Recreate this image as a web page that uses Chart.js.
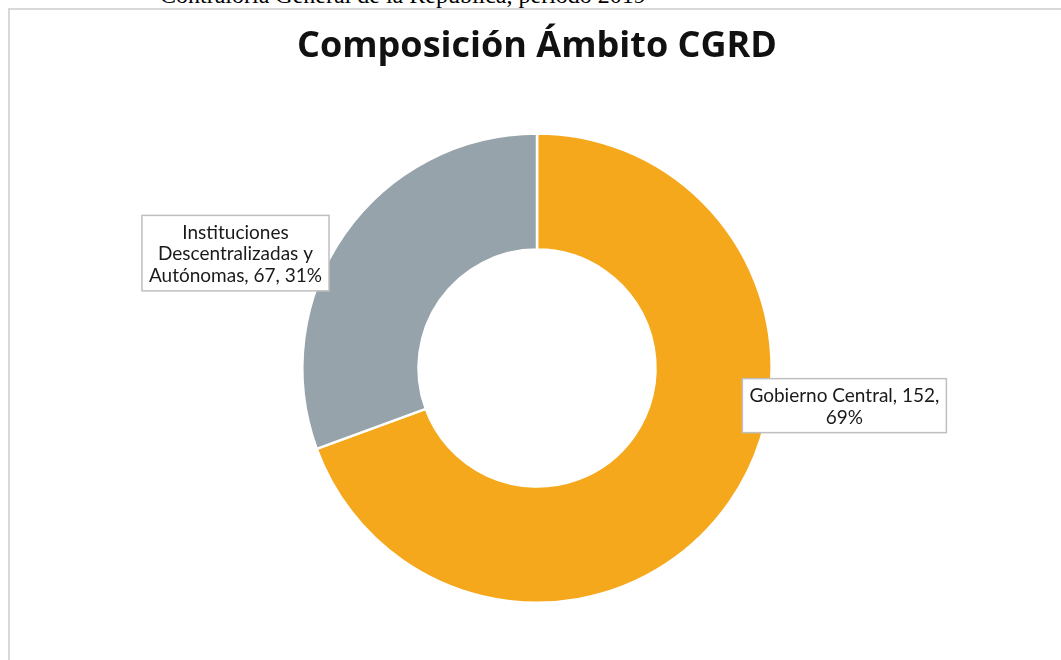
<!DOCTYPE html>
<html lang="es">
<head>
    <meta charset="UTF-8">
    <title>Composición Ámbito CGRD</title>
    <script src="https://cdn.jsdelivr.net/npm/chart.js"></script>
    <style>
        html, body {
            margin: 0;
            padding: 0;
            width: 1061px;
            height: 660px;
            overflow: hidden;
            background: #ffffff;
        }
        .caption {
            position: absolute;
            left: 160px;
            top: -17px;
            font-family: "Liberation Serif", "DejaVu Serif", serif;
            font-size: 24px;
            line-height: 24px;
            color: #000;
            white-space: nowrap;
        }
        .frame {
            position: absolute;
            left: 8px;
            top: 8px;
            width: 1058px;
            height: 660px;
            border: 2px solid #d9d9d9;
            background: #fff;
        }
        .chart-box {
            position: absolute;
            left: 0;
            top: 0;
            width: 1054px;
            height: 651px;
        }
    </style>
</head>
<body>
    <div class="caption">Contraloría General de la República, período 2019</div>
    <div class="frame">
        <div class="chart-box"><canvas id="donut"></canvas></div>
    </div>

    <script>
        // data
        const categories = ['Gobierno Central', 'Instituciones Descentralizadas y Autónomas'];
        const entities = [152, 67];
        const percents = [69, 31];
        const sliceColors = ['#f5a81b', '#97a3aa'];

        // where each label box sits, relative to the donut (multiples of the outer radius)
        const labelSpots = [
            { dx: 1.31, dy: 0.16, wrap: 215 },
            { dx: -1.285, dy: -0.49, wrap: 190 }
        ];

        function wrapText(ctx, text, maxWidth) {
            const words = text.split(' ');
            const lines = [];
            let line = '';
            words.forEach(w => {
                const test = line ? line + ' ' + w : w;
                if (ctx.measureText(test).width > maxWidth && line) {
                    lines.push(line);
                    line = w;
                } else {
                    line = test;
                }
            });
            if (line) lines.push(line);
            return lines;
        }

        const boxLabels = {
            id: 'boxLabels',
            afterDatasetsDraw(chart) {
                const ctx = chart.ctx;
                const meta = chart.getDatasetMeta(0);
                ctx.save();
                ctx.font = '19px Lato, "Open Sans", sans-serif';
                ctx.textAlign = 'center';
                ctx.textBaseline = 'middle';
                meta.data.forEach((arc, i) => {
                    const spot = labelSpots[i];
                    const r = arc.outerRadius;
                    const cx = arc.x + spot.dx * r;
                    const cy = arc.y + spot.dy * r;
                    const text = categories[i] + ', ' + entities[i] + ', ' + percents[i] + '%';
                    const lines = wrapText(ctx, text, spot.wrap);
                    const lh = 21.5;
                    let w = 0;
                    lines.forEach(l => { w = Math.max(w, ctx.measureText(l).width); });
                    const bw = w + 14;
                    const bh = lines.length * lh + 11;
                    ctx.fillStyle = '#ffffff';
                    ctx.fillRect(cx - bw / 2, cy - bh / 2, bw, bh);
                    ctx.strokeStyle = '#bfbfbf';
                    ctx.lineWidth = 1.5;
                    ctx.strokeRect(cx - bw / 2, cy - bh / 2, bw, bh);
                    ctx.fillStyle = '#1a1a1a';
                    lines.forEach((l, k) => {
                        ctx.fillText(l, cx, cy - (lines.length - 1) * lh / 2 + k * lh + 1);
                    });
                });
                ctx.restore();
            }
        };

        new Chart(document.getElementById('donut'), {
            type: 'doughnut',
            data: {
                labels: categories,
                datasets: [{
                    data: entities,
                    backgroundColor: sliceColors,
                    borderColor: '#ffffff',
                    borderWidth: 2.5
                }]
            },
            options: {
                responsive: true,
                maintainAspectRatio: false,
                animation: false,
                cutout: '50.5%',
                layout: { padding: { top: 0, bottom: 57, left: 0, right: 0 } },
                plugins: {
                    legend: { display: false },
                    tooltip: { enabled: false },
                    title: {
                        display: true,
                        text: 'Composición Ámbito CGRD',
                        color: '#111111',
                        font: { family: '"Open Sans", Lato, sans-serif', size: 36, weight: 'bold' },
                        padding: { top: 15, bottom: 64 }
                    }
                }
            },
            plugins: [boxLabels]
        });
    </script>
</body>
</html>
